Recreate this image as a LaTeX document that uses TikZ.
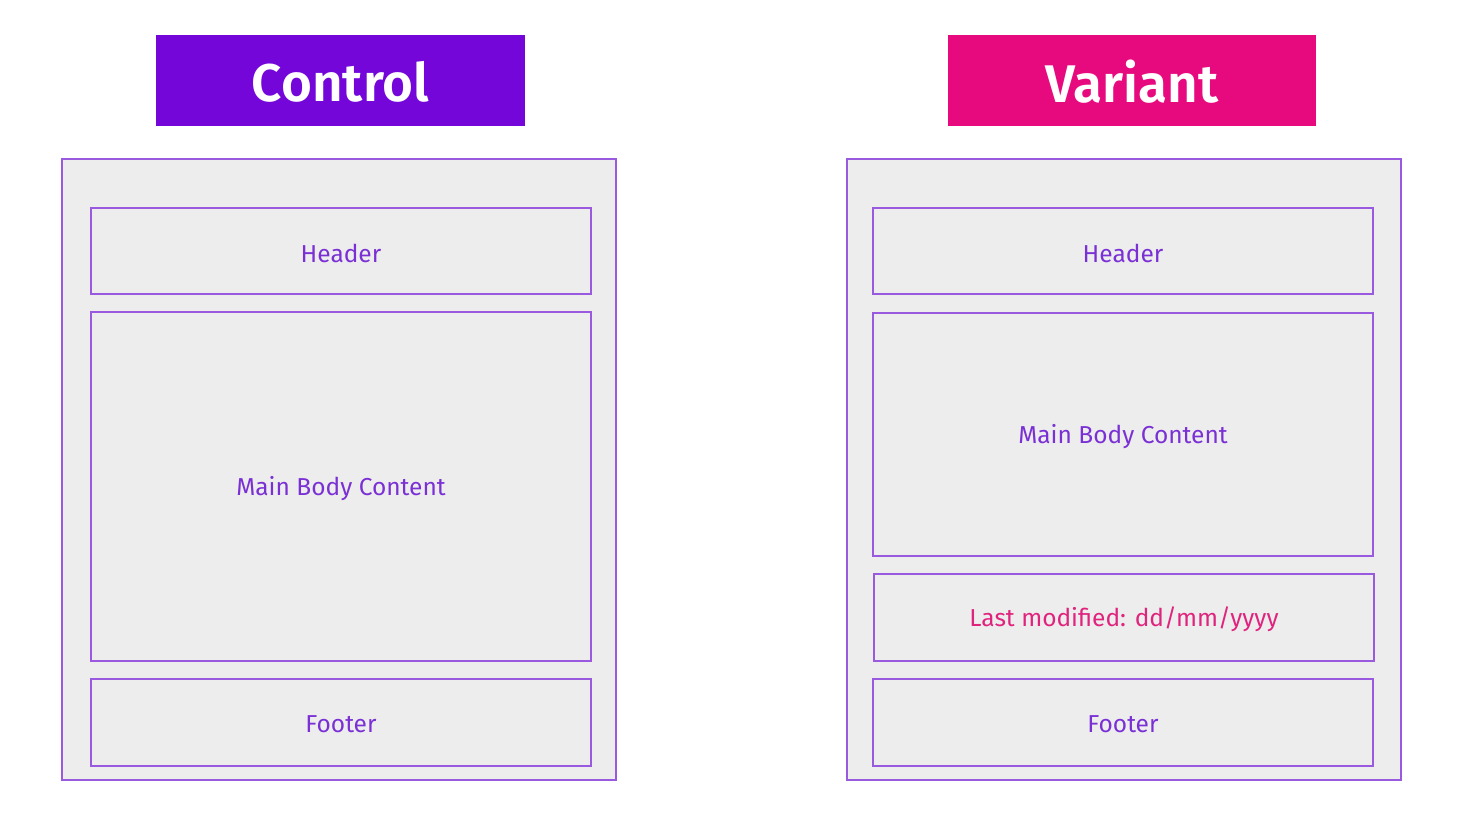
\documentclass[tikz,border=0pt]{standalone}
\usepackage{fontspec}
\setmainfont{Fira Sans}
\newfontfamily\titlefont{Fira Sans SemiBold}
\definecolor{ctrl}{HTML}{7406DA}
\definecolor{vari}{HTML}{E70A7F}
\definecolor{edge}{HTML}{9A5AE0}
\definecolor{panel}{HTML}{EDEDED}
\definecolor{txt}{HTML}{7A30D4}
\definecolor{pinktxt}{HTML}{E0247E}
\begin{document}
\begin{tikzpicture}[x=1pt,y=-1pt,
  title/.style={text=white,font=\titlefont\fontsize{53}{60}\selectfont,anchor=center},
  outer/.style={draw=edge,fill=panel,line width=1.6pt},
  block/.style={draw=edge,fill=panel,line width=1.6pt},
  lbl/.style={text=txt,font=\fontsize{24.5}{29}\selectfont,anchor=center}]
\useasboundingbox (0,0) rectangle (1462,823);
\fill[white] (0,0) rectangle (1462,823);
% titles
\fill[ctrl] (156,35) rectangle (525,126);
\node[title] (tc) at (340.5,82) {Control};
\fill[vari] (948,35) rectangle (1316,126);
\node[title] (tv) at (1132,82) {Variant};
% left panel
\draw[outer] (62,159) rectangle (616,780);
\draw[block] (91,208) rectangle (591,294);
\node[lbl] (lh) at (341,253) {Header};
\draw[block] (91,312) rectangle (591,661);
\node[lbl] (lm) at (341,489) {Main Body Content};
\draw[block] (91,679) rectangle (591,766);
\node[lbl] (lf) at (341,724) {Footer};
% right panel
\draw[outer] (847,159) rectangle (1401,780);
\draw[block] (873,208) rectangle (1373,294);
\node[lbl] (rh) at (1123,253) {Header};
\draw[block] (873,313) rectangle (1373,556);
\node[lbl] (rm) at (1123,437) {Main Body Content};
\draw[block] (874,574) rectangle (1374,661);
\node[lbl,text=pinktxt] (rl) at (1124,619) {Last modified: dd/mm/yyyy};
\draw[block] (873,679) rectangle (1373,766);
\node[lbl] (rf) at (1123,724) {Footer};
\end{tikzpicture}
\end{document}
